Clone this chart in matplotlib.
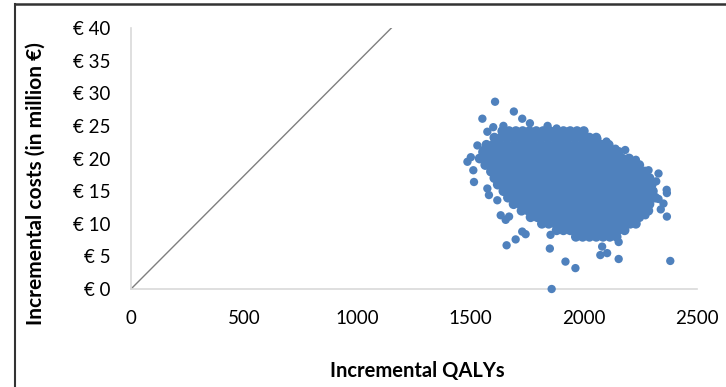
#!/usr/bin/env python3

from matplotlib import pyplot as plt
from matplotlib.lines import Line2D

# willingness-to-pay threshold line, QALYs vs million euro
threshold_qalys = [0, 1150]
threshold_costs = [0, 40]

# dense core of the cloud, one row of QALY values per cost level
core_costs = [24.2, 23.2, 22.1, 21.0, 20.0, 19.0, 18.0, 17.0, 16.0,
              15.0, 14.0, 13.0, 12.0, 11.0, 10.0, 9.0, 8.0]
core_qalys = [
    [1640, 1670, 1700, 1730, 1760, 1790, 1820, 1850, 1880, 1910, 1940, 1970, 2000],
    [1605, 1635, 1665, 1695, 1725, 1755, 1785, 1815, 1845, 1875, 1905, 1935, 1965,
     1995, 2025, 2055],
    [1570, 1600, 1630, 1660, 1690, 1720, 1750, 1780, 1810, 1840, 1870, 1900, 1930,
     1960, 1990, 2020, 2050, 2080, 2110],
    [1555, 1585, 1615, 1645, 1675, 1705, 1735, 1765, 1795, 1825, 1855, 1885, 1915,
     1945, 1975, 2005, 2035, 2065, 2095, 2125, 2155],
    [1540, 1570, 1600, 1630, 1660, 1690, 1720, 1750, 1780, 1810, 1840, 1870, 1900,
     1930, 1960, 1990, 2020, 2050, 2080, 2110, 2140, 2170, 2200],
    [1565, 1595, 1625, 1655, 1685, 1715, 1745, 1775, 1805, 1835, 1865, 1895, 1925,
     1955, 1985, 2015, 2045, 2075, 2105, 2135, 2165, 2195, 2225, 2245],
    [1590, 1620, 1650, 1680, 1710, 1740, 1770, 1800, 1830, 1860, 1890, 1920, 1950,
     1980, 2010, 2040, 2070, 2100, 2130, 2160, 2190, 2220, 2250, 2270],
    [1605, 1635, 1665, 1695, 1725, 1755, 1785, 1815, 1845, 1875, 1905, 1935, 1965,
     1995, 2025, 2055, 2085, 2115, 2145, 2175, 2205, 2235, 2265, 2290],
    [1620, 1650, 1680, 1710, 1740, 1770, 1800, 1830, 1860, 1890, 1920, 1950, 1980,
     2010, 2040, 2070, 2100, 2130, 2160, 2190, 2220, 2250, 2280, 2300],
    [1645, 1675, 1705, 1735, 1765, 1795, 1825, 1855, 1885, 1915, 1945, 1975, 2005,
     2035, 2065, 2095, 2125, 2155, 2185, 2215, 2245, 2275, 2305],
    [1665, 1690, 1720, 1750, 1780, 1810, 1840, 1870, 1900, 1930, 1960, 1990, 2020,
     2050, 2080, 2110, 2140, 2170, 2200, 2230, 2260, 2290, 2315],
    [1690, 1720, 1750, 1780, 1810, 1840, 1870, 1900, 1930, 1960, 1990, 2020, 2050,
     2080, 2110, 2140, 2170, 2200, 2230, 2260, 2290],
    [1725, 1755, 1785, 1815, 1845, 1875, 1905, 1935, 1965, 1995, 2025, 2055, 2085,
     2115, 2145, 2175, 2205, 2235, 2265, 2285],
    [1765, 1795, 1825, 1855, 1885, 1915, 1945, 1975, 2005, 2035, 2065, 2095, 2125,
     2155, 2185, 2215, 2245],
    [1815, 1845, 1875, 1905, 1935, 1965, 1995, 2025, 2055, 2085, 2115, 2145, 2175,
     2205, 2230],
    [1880, 1910, 1940, 1970, 2000, 2030, 2060, 2090, 2120, 2150, 2180],
    [1965, 1995, 2025, 2055, 2085, 2115, 2145],
]

# scattered simulations around the edge of the cloud
edge_qalys = [1608, 1552, 1691, 1728, 1762, 1926, 1982, 1574, 1530, 1486, 1501,
              1512, 1515, 1574, 1581, 1618, 1633, 1670, 1655, 1728, 1743, 1699,
              1659, 1853, 1850, 1919, 1963, 1858, 2073, 2103, 2081, 2154, 2154,
              2382, 2272, 2367, 2352, 2367, 2366, 2330, 2286, 2183, 2140, 1600,
              1645, 1840, 1880, 2060, 2100, 2230, 2320, 2330, 2340, 1560]
edge_costs = [28.7, 26.1, 27.2, 26.1, 25.4, 24.1, 23.8, 24.1, 22.0, 19.5, 20.2,
              18.2, 16.4, 15.4, 14.4, 13.6, 11.3, 11.1, 10.6, 8.8, 8.4, 7.6,
              6.7, 8.3, 6.2, 4.2, 3.2, 0.0, 5.2, 5.5, 6.5, 7.2, 4.6,
              4.3, 11.3, 14.7, 13.1, 11.1, 15.2, 17.7, 18.2, 21.3, 21.5, 24.8,
              25.0, 25.0, 24.6, 23.0, 22.6, 19.8, 16.5, 13.8, 12.2, 21.4]

y_ticks = [0, 5, 10, 15, 20, 25, 30, 35, 40]
x_ticks = [0, 500, 1000, 1500, 2000, 2500]

plt.rcParams['font.family'] = ['Lato', 'DejaVu Sans']

fig = plt.figure(figsize=(7.26, 3.87), dpi=100)
ax = fig.add_axes([131 / 726, 1 - 289 / 387, 566 / 726, 261 / 387])

blue = "#4f81bd"
core_x = [x for row in core_qalys for x in row]
core_y = [c for c, row in zip(core_costs, core_qalys) for _ in row]
ax.scatter(core_x, core_y, s=50, color=blue, edgecolors="none", zorder=3)
ax.scatter(edge_qalys, edge_costs, s=36, color=blue, edgecolors="none", zorder=3,
           clip_on=False)
ax.plot(threshold_qalys, threshold_costs, color="#7f7f7f", lw=1.0, zorder=2)

ax.set_xlim(0, 2500)
ax.set_ylim(0, 40)
ax.set_xticks(x_ticks)
ax.set_xticklabels([str(v) for v in x_ticks])
ax.set_yticks(y_ticks)
ax.set_yticklabels([f"€ {v}" for v in y_ticks])
ax.tick_params(length=0, labelsize=13.5, colors="black")
ax.tick_params(axis="y", pad=15)
ax.tick_params(axis="x", pad=15)
for side in ["top", "right"]:
    ax.spines[side].set_visible(False)
for side in ["left", "bottom"]:
    ax.spines[side].set_color("#d9d9d9")
    ax.spines[side].set_linewidth(1.2)

fig.text(417 / 726, 1 - 371 / 387, "Incremental QALYs", ha="center", va="center",
         fontsize=14.5, fontweight="bold")
fig.text(36 / 726, 1 - 184 / 387, "Incremental costs (in million €)", ha="center",
         va="center", rotation=90, fontsize=15, fontweight="bold")

# picture frame (top and left edges only are visible)
fig.add_artist(Line2D([15 / 726, 1], [1 - 4 / 387, 1 - 4 / 387], color="#333333", lw=1.8))
fig.add_artist(Line2D([15 / 726, 15 / 726], [0, 1 - 4 / 387], color="#333333", lw=1.5))

fig.savefig("out.png", dpi=100)
